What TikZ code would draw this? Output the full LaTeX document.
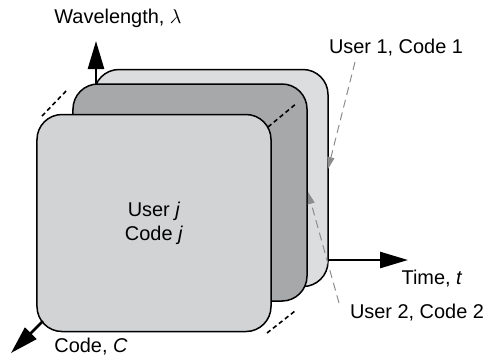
\documentclass[tikz,border=0pt]{standalone}
\usepackage{fontspec}
\setmainfont{Liberation Sans}
\usetikzlibrary{arrows.meta}
\definecolor{sheetlight}{HTML}{DCDDDF}
\definecolor{sheetdark}{HTML}{A7A8AA}
\definecolor{sheetfront}{HTML}{D2D3D5}
\definecolor{pointer}{HTML}{8C8C8C}
\tikzset{
  sheet/.style={draw=black, line width=0.75bp, rounded corners=12.5bp,
    minimum width=117bp, minimum height=108.5bp, inner sep=0pt},
  axis/.style={line width=1.3bp, -{Triangle[length=14bp, width=8bp]}},
  depth/.style={line width=0.8bp, dash pattern=on 2.2bp off 1.6bp},
  callout/.style={draw=pointer, line width=0.5bp, dash pattern=on 4bp off 2.5bp,
    -{Triangle[length=6bp, width=3.5bp, fill=pointer]}},
  lbl/.style={font=\fontsize{10}{12}\selectfont, inner sep=1pt}
}
\begin{document}
\begin{tikzpicture}[x=0.5bp, y=-0.5bp]
\useasboundingbox (0,0) rectangle (490,358);

% three stacked code sheets, back to front
\node[sheet, fill=sheetlight] (back) at (211,178) {};
\node[sheet, fill=sheetdark]  (mid)  at (190,192.5) {};
\node[sheet, fill=sheetfront, align=center, lbl] (front) at (154,223)
  {User \textit{j}\\Code \textit{j}};

% depth guides between the sheets
\coordinate (d1a) at (42,116);  \coordinate (d1b) at (68,89);
\coordinate (d2a) at (268,127); \coordinate (d2b) at (297,103);
\coordinate (d3a) at (267,333); \coordinate (d3b) at (295,311);
\draw[depth] (d1a) -- (d1b);
\draw[depth] (d2a) -- (d2b);
\draw[depth] (d3a) -- (d3b);

% axes
\coordinate (lamfrom) at (96,84);   \coordinate (lamto) at (96,41);
\coordinate (tfrom) at (328,260);   \coordinate (tto) at (408,260);
\coordinate (cfrom) at (43,321);    \coordinate (cto) at (11,353);
\draw[axis] (lamfrom) -- (lamto);
\draw[axis] (tfrom) -- (tto);
\draw[axis] (cfrom) -- (cto);

% axis labels
\node[lbl] (lam) at (118,18) {Wavelength, $\lambda$};
\node[lbl] (time) at (432,279) {Time, \textit{t}};
\node[lbl] (code) at (91,347) {Code, \textit{C}};

% sheet callouts
\node[lbl] (u1) at (396,48) {User 1, Code 1};
\node[lbl] (u2) at (417,313) {User 2, Code 2};
\coordinate (u1from) at (355,62);  \coordinate (u1to) at (328,169);
\coordinate (u2from) at (339,303); \coordinate (u2to) at (308,192);
\draw[callout] (u1from) -- (u1to);
\draw[callout] (u2from) -- (u2to);
\end{tikzpicture}
\end{document}
